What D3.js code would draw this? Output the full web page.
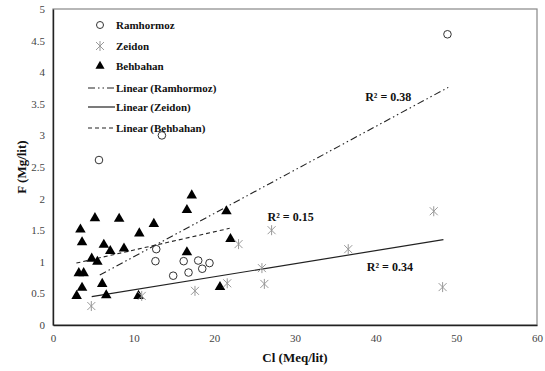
<!DOCTYPE html>
<html><head><meta charset="utf-8">
<script src="https://cdn.jsdelivr.net/npm/d3@7"></script>
<style>body{margin:0;background:#fff}svg{display:block}</style>
</head><body>
<svg id="c" width="545" height="371"></svg>
<script>
const ramX = [5.7, 13.5, 48.9, 12.8, 12.7, 14.9, 16.2, 16.8, 18.0, 18.5, 19.4];
const ramY = [2.61, 3.0, 4.6, 1.2, 1.01, 0.78, 1.01, 0.83, 1.02, 0.89, 0.98];
const zeiX = [4.75, 11.0, 17.6, 21.6, 23.0, 25.9, 26.2, 27.1, 36.6, 47.2, 48.3];
const zeiY = [0.30, 0.46, 0.54, 0.66, 1.28, 0.90, 0.65, 1.50, 1.20, 1.80, 0.60];
const behX = [2.93, 3.2, 3.8, 3.6, 3.4, 3.6, 4.8, 5.5, 5.2, 6.1, 6.6, 6.3, 7.1, 8.2, 8.8, 10.7, 10.6, 12.5, 16.6, 17.2, 16.6, 20.7, 21.5, 22.0];
const behY = [0.46, 0.82, 0.82, 0.59, 1.51, 1.31, 1.05, 1.0, 1.69, 0.65, 0.47, 1.27, 1.17, 1.68, 1.21, 1.45, 0.46, 1.60, 1.82, 2.05, 1.15, 0.60, 1.80, 1.36];
// trend line endpoints [x0, y0, x1, y1]
const trendRam = [5.8, 0.79, 49.0, 3.76];
const trendZei = [4.8, 0.45, 48.4, 1.35];
const trendBeh = [2.9, 0.98, 21.9, 1.53];
const xTicks = [0, 10, 20, 30, 40, 50, 60];
const yTicks = [0, 0.5, 1, 1.5, 2, 2.5, 3, 3.5, 4, 4.5, 5];
const r2Labels = [
  {t: "R² = 0.38", x: 38.7, y: 3.54},
  {t: "R² = 0.15", x: 26.6, y: 1.645},
  {t: "R² = 0.34", x: 38.9, y: 0.855}
];
const legendItems = ["Ramhormoz", "Zeidon", "Behbahan", "Linear (Ramhormoz)", "Linear (Zeidon)", "Linear (Behbahan)"];

const svg = d3.select("#c");
const L = 53, R = 537, T = 9, B = 325;
const x = d3.scaleLinear().domain([0, 60]).range([L, R]);
const y = d3.scaleLinear().domain([0, 5]).range([B, T]);
const font = "'Liberation Serif', 'Times New Roman', serif";

// frame
svg.append("rect").attr("x", L).attr("y", T).attr("width", R - L).attr("height", B - T)
  .attr("fill", "none").attr("stroke", "#888").attr("stroke-width", 1.2);

const xAxis = svg.append("g").attr("transform", `translate(0,${B})`)
  .call(d3.axisBottom(x).tickValues(xTicks).tickSize(0).tickPadding(9).tickFormat(d3.format("d")));
const yAxis = svg.append("g").attr("transform", `translate(${L},0)`)
  .call(d3.axisLeft(y).tickValues(yTicks).tickSize(0).tickPadding(8).tickFormat(d => String(d)));
[xAxis, yAxis].forEach(a => {
  a.select(".domain").attr("stroke", "#222").attr("stroke-width", 1.4);
  a.selectAll("text").attr("font-family", font).attr("font-size", 11).attr("fill", "#444");
});

// trend lines
const plotTrend = (t, dash, w) => svg.append("line")
  .attr("x1", x(t[0])).attr("y1", y(t[1])).attr("x2", x(t[2])).attr("y2", y(t[3]))
  .attr("stroke", "#222").attr("stroke-width", w).attr("stroke-dasharray", dash);
plotTrend(trendRam, "7,3,1.5,3,1.5,3", 1.1);
plotTrend(trendZei, null, 1.2);
plotTrend(trendBeh, "4,3", 1.1);

// markers
const tri = d3.symbol().type(d3.symbolTriangle).size(48);
const star = (g, cx, cy) => {
  const s = 4;
  g.append("path").attr("d", `M${cx - s},${cy - s}L${cx + s},${cy + s}M${cx - s},${cy + s}L${cx + s},${cy - s}M${cx},${cy - s - 1}L${cx},${cy + s + 1}`)
    .attr("stroke", "#999").attr("stroke-width", 1).attr("fill", "none");
};
const gBeh = svg.append("g");
behX.forEach((v, i) => gBeh.append("path").attr("d", tri)
  .attr("transform", `translate(${x(v)},${y(behY[i])})`).attr("fill", "#000"));
const gZei = svg.append("g");
zeiX.forEach((v, i) => star(gZei, x(v), y(zeiY[i])));
const gRam = svg.append("g");
ramX.forEach((v, i) => gRam.append("circle").attr("cx", x(v)).attr("cy", y(ramY[i])).attr("r", 3.8)
  .attr("fill", "none").attr("stroke", "#333").attr("stroke-width", 1));

// R2 labels
r2Labels.forEach(d => svg.append("text").attr("x", x(d.x)).attr("y", y(d.y))
  .attr("font-family", font).attr("font-weight", "bold").attr("font-size", 12).attr("fill", "#111").text(d.t));

// legend
const legY = [25, 46, 66, 88, 107, 128];
const lg = svg.append("g");
legendItems.forEach((t, i) => {
  const yy = legY[i];
  if (i === 0) lg.append("circle").attr("cx", 100).attr("cy", yy).attr("r", 3.5).attr("fill", "none").attr("stroke", "#333");
  if (i === 1) star(lg, 100, yy);
  if (i === 2) lg.append("path").attr("d", d3.symbol().type(d3.symbolTriangle).size(36)).attr("transform", `translate(100,${yy})`).attr("fill", "#000");
  if (i >= 3) {
    const dash = [("7,3,1.5,3,1.5,3"), null, "4,3"][i - 3];
    lg.append("line").attr("x1", 88).attr("x2", 115).attr("y1", yy).attr("y2", yy)
      .attr("stroke", "#222").attr("stroke-width", 1.2).attr("stroke-dasharray", dash);
  }
  lg.append("text").attr("x", 116).attr("y", yy).attr("dy", "0.35em")
    .attr("font-family", font).attr("font-weight", "bold").attr("font-size", 11).attr("fill", "#111").text(t);
});

// axis titles
svg.append("text").attr("x", 295).attr("y", 362).attr("text-anchor", "middle")
  .attr("font-family", font).attr("font-weight", "bold").attr("font-size", 13).attr("fill", "#111").text("Cl (Meq/lit)");
svg.append("text").attr("transform", "translate(26,167) rotate(-90)").attr("text-anchor", "middle")
  .attr("font-family", font).attr("font-weight", "bold").attr("font-size", 13).attr("fill", "#111").text("F (Mg/lit)");
</script>
</body></html>
